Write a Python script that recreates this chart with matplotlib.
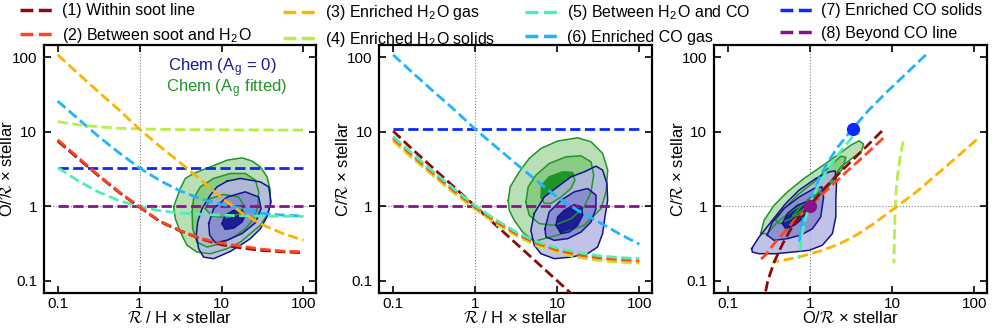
import matplotlib
matplotlib.use("Agg")
import matplotlib.pyplot as plt
from matplotlib.lines import Line2D
from matplotlib.ticker import FixedLocator, FixedFormatter, NullLocator

plt.rcParams["font.family"] = ["Liberation Sans", "DejaVu Sans"]
plt.rcParams["mathtext.fontset"] = "cm"
plt.rcParams["axes.linewidth"] = 1.6

# --- model tracks ---
# R/H x stellar values where the tracks were read
RH = [0.1, 0.178, 0.316, 0.562, 1.0, 1.78, 3.16, 5.62, 10.0, 17.8, 31.6, 56.2, 100.0]

LABELS = [
    "(1) Within soot line",
    "(2) Between soot and H$_\\mathregular{2}$O",
    "(3) Enriched H$_\\mathregular{2}$O gas",
    "(4) Enriched H$_\\mathregular{2}$O solids",
    "(5) Between H$_\\mathregular{2}$O and CO",
    "(6) Enriched CO gas",
    "(7) Enriched CO solids",
    "(8) Beyond CO line",
]
COLORS = ["#8b0a0a", "#ff4520", "#ffb300", "#b4f046",
          "#4df0b4", "#1eb4ff", "#0a28ff", "#8b108b"]

# O/R x stellar for each scenario
o1 = [7.5, 4.35, 2.55, 1.53, 0.97, 0.62, 0.465, 0.365, 0.305, 0.275, 0.255, 0.245, 0.238]
o2 = [7.8, 4.5, 2.6, 1.56, 0.98, 0.63, 0.47, 0.37, 0.32, 0.29, 0.265, 0.25, 0.245]
o3 = [107, 60, 34, 19.5, 10.8, 6.3, 3.8, 2.25, 1.3, 0.81, 0.565, 0.43, 0.35]
o4 = [13.6, 12.4, 11.6, 11.1, 10.9, 10.75, 10.65, 10.6, 10.6, 10.55, 10.55, 10.5, 10.5]
o5 = [3.3, 2.19, 1.55, 1.19, 0.99, 0.87, 0.81, 0.78, 0.76, 0.745, 0.74, 0.735, 0.73]
o6 = [25.7, 14.8, 8.6, 5.2, 3.25, 2.2, 1.6, 1.25, 1.06, 0.93, 0.8, 0.76, 0.74]
o7 = [3.3, 3.3, 3.3, 3.3, 3.3, 3.3, 3.3, 3.3, 3.3, 3.3, 3.3, 3.3, 3.3]
o8 = [1.0, 1.0, 1.0, 1.0, 1.0, 1.0, 1.0, 1.0, 1.0, 1.0, 1.0, 1.0, 1.0]

# C/R x stellar for each scenario
c1 = [10.2, 5.6, 3.16, 1.78, 1.0, 0.56, 0.316, 0.178, 0.1, 0.056, 0.0316, 0.0178, 0.01]
c2 = [8.2, 4.67, 2.71, 1.6, 0.98, 0.63, 0.43, 0.32, 0.26, 0.225, 0.205, 0.194, 0.188]
c3 = [7.8, 4.46, 2.6, 1.54, 0.95, 0.61, 0.42, 0.31, 0.25, 0.215, 0.197, 0.186, 0.18]
c4 = [7.4, 4.25, 2.48, 1.47, 0.91, 0.58, 0.40, 0.295, 0.24, 0.205, 0.188, 0.178, 0.172]
c5 = [8.6, 4.9, 2.84, 1.68, 1.02, 0.66, 0.45, 0.335, 0.275, 0.24, 0.217, 0.205, 0.198]
c6 = [107, 60, 34, 19.5, 10.8, 6.3, 3.7, 2.2, 1.32, 0.88, 0.62, 0.43, 0.31]
c7 = [10.8, 10.8, 10.8, 10.8, 10.8, 10.8, 10.8, 10.8, 10.8, 10.8, 10.8, 10.8, 10.8]
c8 = [1.0, 1.0, 1.0, 1.0, 1.0, 1.0, 1.0, 1.0, 1.0, 1.0, 1.0, 1.0, 1.0]

O_TRACKS = [o1, o2, o3, o4, o5, o6, o7, o8]
C_TRACKS = [c1, c2, c3, c4, c5, c6, c7, c8]

# --- retrieval contours (outer, middle, inner) ---
# panel 1: O/R vs R/H
P1_GREEN = [
    [(2.6, 0.98), (3.14, 1.73), (3.61, 2.36), (4.56, 2.75), (7.3, 3.37), (11.7, 4.15),
     (17.8, 4.46), (23.6, 4.03), (29.8, 3.37), (35.9, 2.48), (39.4, 1.64), (39.4, 1.03),
     (35.9, 0.76), (29.8, 0.556), (22.5, 0.43), (17.0, 0.33), (11.7, 0.27), (7.3, 0.231),
     (5.0, 0.243), (3.79, 0.30), (3.14, 0.45), (2.73, 0.68)],
    [(4.37, 0.84), (4.56, 1.27), (5.51, 1.82), (8.0, 2.36), (12.8, 2.75), (19.5, 2.75),
     (25.9, 2.24), (28.4, 1.56), (27.6, 0.98), (24.7, 0.68), (19.5, 0.50), (14.1, 0.387),
     (9.7, 0.315), (6.65, 0.284), (5.0, 0.33), (4.44, 0.50)],
    [(6.34, 0.93), (7.3, 1.27), (10.6, 1.44), (16.2, 1.33), (18.6, 1.03), (17.0, 0.80),
     (11.7, 0.70), (7.65, 0.74)],
]
P1_BLUE = [
    [(11.7, 2.17), (17.0, 2.36), (29.8, 2.12), (37.6, 1.82), (40.2, 1.14), (35.9, 0.72),
     (29.8, 0.50), (22.5, 0.368), (17.0, 0.30), (12.8, 0.248), (8.0, 0.198), (6.04, 0.208),
     (5.25, 0.27), (4.92, 0.41), (5.11, 0.615), (5.78, 0.93), (7.3, 1.41), (8.8, 1.82)],
    [(6.96, 0.585), (8.0, 0.93), (11.7, 1.33), (19.5, 1.56), (28.4, 1.33), (30.4, 0.93),
     (25.9, 0.60), (17.8, 0.43), (11.7, 0.35), (8.4, 0.325), (7.16, 0.41)],
    [(10.1, 0.585), (11.1, 0.76), (14.1, 0.88), (17.8, 0.88), (19.5, 0.76), (17.8, 0.615),
     (14.1, 0.51), (11.1, 0.49)],
]

# panel 2: C/R vs R/H
P2_GREEN = [
    [(2.53, 1.20), (2.67, 1.82), (3.44, 2.89), (4.56, 4.38), (6.33, 5.96), (10.1, 7.48),
     (17.7, 8.28), (25.8, 7.32), (35.8, 5.1), (41.2, 3.05), (39.3, 1.56), (34.1, 0.93),
     (21.3, 0.556), (10.1, 0.41), (5.24, 0.339), (3.78, 0.452), (2.99, 0.648), (2.6, 0.88)],
    [(4.15, 1.14), (4.43, 1.82), (5.5, 2.61), (7.99, 3.75), (12.8, 4.6), (19.5, 4.74),
     (25.8, 3.94), (27.8, 2.61), (25.8, 1.56), (21.3, 0.98), (14.7, 0.68), (9.2, 0.556),
     (6.03, 0.585), (4.56, 0.757)],
    [(6.33, 1.33), (6.45, 1.92), (7.99, 2.48), (11.6, 2.89), (15.4, 2.84), (16.4, 2.24),
     (14.7, 1.73), (11.1, 1.33), (8.4, 1.09), (6.94, 1.09)],
]
P2_BLUE = [
    [(5.24, 0.80), (6.94, 1.33), (10.1, 1.82), (14.7, 2.48), (21.3, 2.89), (29.6, 3.45),
     (35.7, 3.05), (40.3, 2.02), (41.1, 1.20), (38.1, 0.72), (35.7, 0.43), (31.0, 0.284),
     (23.4, 0.231), (14.7, 0.208), (9.2, 0.198), (6.32, 0.231), (5.24, 0.30), (4.77, 0.476)],
    [(7.08, 0.50), (7.99, 0.84), (11.1, 1.20), (16.1, 1.56), (23.5, 1.73), (29.6, 1.41),
     (29.6, 0.93), (25.8, 0.615), (19.5, 0.452), (13.4, 0.368), (9.2, 0.349), (7.28, 0.387)],
    [(9.64, 0.556), (10.1, 0.72), (12.2, 0.88), (16.1, 1.05), (19.8, 0.98), (20.4, 0.757),
     (17.7, 0.556), (14.0, 0.452), (11.1, 0.43)],
]

# panel 3: C/R vs O/R
P3_GREEN = [
    [(0.25, 0.43), (0.275, 0.648), (0.364, 1.03), (0.53, 1.56), (0.845, 2.36), (1.35, 3.37),
     (2.16, 4.85), (3.14, 6.6), (3.96, 7.55), (4.48, 6.81), (4.24, 5.54), (3.44, 4.6),
     (2.37, 3.37), (1.96, 2.48), (1.63, 1.92), (1.23, 1.48), (0.845, 1.09), (0.58, 0.84),
     (0.40, 0.615), (0.30, 0.43)],
    [(0.38, 0.648), (0.48, 0.93), (0.70, 1.41), (1.12, 2.12), (1.71, 3.37), (2.37, 4.7),
     (2.73, 4.51), (2.48, 3.21), (1.88, 2.12), (1.29, 1.41), (0.845, 0.93), (0.58, 0.68),
     (0.42, 0.585)],
    [(0.62, 0.75), (0.75, 0.95), (0.95, 1.25), (1.15, 1.45), (1.1, 1.2), (0.9, 0.95),
     (0.72, 0.75)],
]
P3_BLUE = [
    [(0.194, 0.27), (0.239, 0.387), (0.347, 0.648), (0.505, 1.09), (0.734, 1.64),
     (1.17, 2.35), (1.71, 2.89), (2.02, 2.98), (2.1, 2.02), (2.06, 1.20), (2.06, 0.72),
     (1.87, 0.43), (1.41, 0.30), (0.97, 0.256), (0.61, 0.243), (0.381, 0.231),
     (0.239, 0.231), (0.198, 0.243)],
    [(0.30, 0.41), (0.348, 0.615), (0.48, 0.93), (0.734, 1.33), (1.12, 1.73), (1.39, 1.82),
     (1.46, 1.33), (1.35, 0.72), (1.07, 0.50), (0.77, 0.41), (0.53, 0.368), (0.364, 0.349)],
    [(0.46, 0.585), (0.53, 0.80), (0.70, 1.03), (0.887, 1.14), (0.93, 0.93), (0.81, 0.68),
     (0.64, 0.556), (0.505, 0.50)],
]

GREEN = "#22942a"
BLUE = "#14148c"
GREEN_FILLS = ["#b9dfb5", "#8acb86", "#1e9626"]
BLUE_FILLS = ["#b5b8e3", "#8489cf", "#0a0a8a"]


def fill_contours(ax, levels, fills, alpha):
    for poly, fc in zip(levels, fills):
        xs = [p[0] for p in poly]
        ys = [p[1] for p in poly]
        ax.fill(xs, ys, color=fc, alpha=alpha, lw=0, zorder=1)


def line_contours(ax, levels, color):
    for poly in levels:
        xs = [p[0] for p in poly] + [poly[0][0]]
        ys = [p[1] for p in poly] + [poly[0][1]]
        ax.plot(xs, ys, color=color, lw=1.1, zorder=2)


def draw_posteriors(ax, green, blue):
    fill_contours(ax, green, GREEN_FILLS, 1.0)
    fill_contours(ax, blue, BLUE_FILLS, 0.85)
    line_contours(ax, green, GREEN)
    line_contours(ax, blue, BLUE)


def style_axes(ax, xlabel, ylabel):
    ax.set_xscale("log")
    ax.set_yscale("log")
    ax.set_xlim(0.068, 142)
    ax.set_ylim(0.068, 146)
    ticks = [0.1, 1, 10, 100]
    names = ["0.1", "1", "10", "100"]
    for axis in (ax.xaxis, ax.yaxis):
        axis.set_major_locator(FixedLocator(ticks))
        axis.set_major_formatter(FixedFormatter(names))
        axis.set_minor_locator(NullLocator())
    ax.tick_params(direction="in", length=5, width=1.2, top=True, right=True,
                   labelsize=11)
    ax.tick_params(axis="x", pad=2.5)
    ax.tick_params(axis="y", pad=5)
    ax.axvline(1, color="grey", ls=":", lw=0.8, zorder=0)
    ax.axhline(1, color="grey", ls=":", lw=0.8, zorder=0)
    ax.set_xlabel(xlabel, fontsize=12, va="baseline")
    ax.set_ylabel(ylabel, fontsize=12)
    ax.xaxis.set_label_coords(0.5, -0.12)
    ax.yaxis.set_label_coords(-0.105, 0.5)


fig = plt.figure(figsize=(9.97, 3.32), dpi=100)
ax1 = fig.add_axes([0.0441, 0.1165, 0.2728, 0.7485])
ax2 = fig.add_axes([0.3805, 0.1165, 0.2733, 0.7485])
ax3 = fig.add_axes([0.7164, 0.1165, 0.2733, 0.7485])

R = "$\\mathcal{R}$"

# --- panel 1 ---
draw_posteriors(ax1, P1_GREEN, P1_BLUE)
for i in [7, 6, 5, 4, 3, 2, 0, 1]:
    ax1.plot(RH, O_TRACKS[i], "--", color=COLORS[i], lw=2, zorder=3)
ax1.text(0.455, 0.907, "Chem (A$_\\mathregular{g}$ = 0)", transform=ax1.transAxes,
         color="#1a1a96", fontsize=12, va="center")
ax1.text(0.448, 0.822, "Chem (A$_\\mathregular{g}$ fitted)", transform=ax1.transAxes,
         color=GREEN, fontsize=12, va="center")
style_axes(ax1, R + " / H \u00d7 stellar", "O/" + R + " \u00d7 stellar")

# --- panel 2 ---
draw_posteriors(ax2, P2_GREEN, P2_BLUE)
for i in [7, 6, 5, 0, 3, 2, 1, 4]:
    ax2.plot(RH, C_TRACKS[i], "--", color=COLORS[i], lw=2, zorder=3)
style_axes(ax2, R + " / H \u00d7 stellar", "C/" + R + " \u00d7 stellar")

# --- panel 3 ---
draw_posteriors(ax3, P3_GREEN, P3_BLUE)
for i in [3, 2, 5, 4, 1, 0]:
    ax3.plot(O_TRACKS[i], C_TRACKS[i], "--", color=COLORS[i], lw=2, zorder=3)
for i in [6, 7]:
    ax3.plot(O_TRACKS[i][0], C_TRACKS[i][0], "o", color=COLORS[i], ms=8.5, zorder=4)
style_axes(ax3, "O/" + R + " \u00d7 stellar", "C/" + R + " \u00d7 stellar")

# --- legend across the top: one legend per column ---
handles = [Line2D([], [], ls="--", lw=2.5, color=c) for c in COLORS]
col_left = [0.0201, 0.2839, 0.5266, 0.7823]
for k, x0 in enumerate(col_left):
    fig.legend(handles[2 * k:2 * k + 2], LABELS[2 * k:2 * k + 2],
               loc="upper left", bbox_to_anchor=(x0, 0.99), ncol=1,
               frameon=False, fontsize=11.5, handlelength=2.0, handletextpad=0.6,
               labelspacing=0.45, borderpad=0, borderaxespad=0)

fig.savefig("out.png", dpi=100)
